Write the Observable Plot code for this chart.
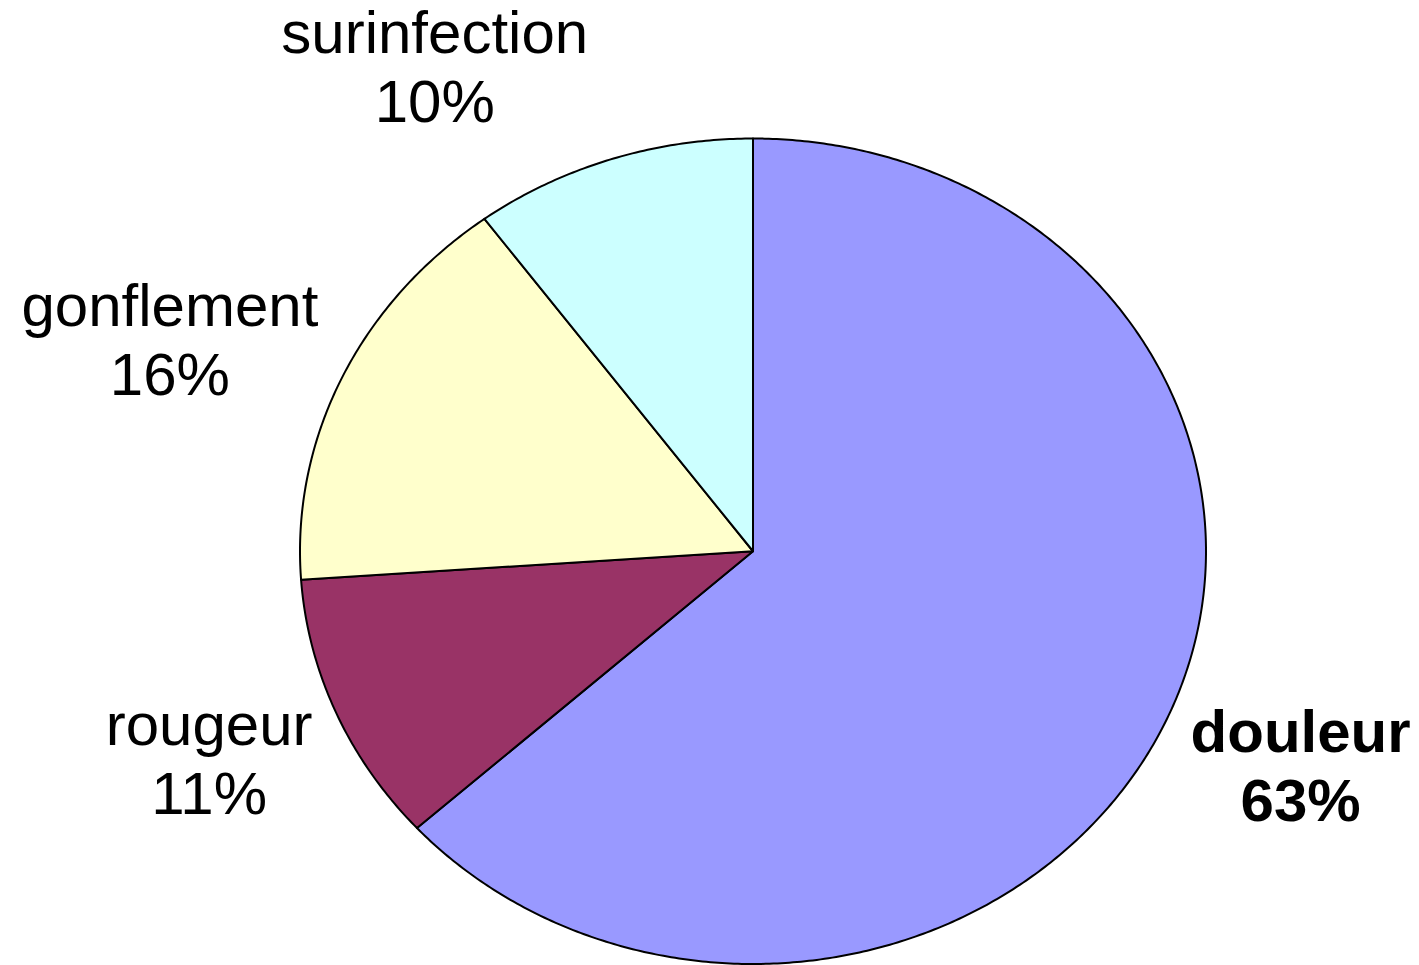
<!DOCTYPE html>
<html>
<head>
<meta charset="utf-8">
<script src="https://cdn.jsdelivr.net/npm/d3@7"></script>
<script src="https://cdn.jsdelivr.net/npm/@observablehq/plot@0.6"></script>
<style>
  html, body { margin: 0; padding: 0; background: #fff; }
  #chart { width: 1419px; height: 965px; }
</style>
</head>
<body>
<div id="chart"></div>
<script>
const categories = ["douleur", "rougeur", "gonflement", "surinfection"];
const values = [63.3, 10.6, 16.0, 10.1];
const colors = ["#9999FF", "#993366", "#FFFFCC", "#CCFFFF"];
const boldLabel = ["douleur"];

const FONT = "Liberation Sans, Arial, Helvetica, sans-serif";
const FONT_SIZE = 60;
const RX_PX = 453; // pixels per x unit (for label measurement)

const total = d3.sum(values);
const pie = d3.pie().sort(null).value(d => d.value)(
  categories.map((name, i) => ({name, value: values[i], color: colors[i]}))
);

// sample slice outline in unit-circle data coordinates
function slicePolygon(s) {
  const pts = [{x: 0, y: 0}];
  const n = Math.max(2, Math.ceil((s.endAngle - s.startAngle) / (Math.PI / 360)));
  for (let k = 0; k <= n; k++) {
    const a = s.startAngle + (s.endAngle - s.startAngle) * k / n;
    pts.push({x: Math.sin(a), y: Math.cos(a)});
  }
  pts.push({x: 0, y: 0});
  return pts;
}

const ctx = document.createElement("canvas").getContext("2d");
function textW(str, bold) {
  ctx.font = `${bold ? "bold " : ""}${FONT_SIZE}px ${FONT}`;
  return ctx.measureText(str).width;
}

const labels = pie.map(s => {
  const mid = (s.startAngle + s.endAngle) / 2;
  const bold = boldLabel.includes(s.data.name);
  const pct = Math.round(s.data.value / total * 100) + "%";
  const w = Math.max(textW(s.data.name, bold), textW(pct, bold));
  const sx = Math.sin(mid), cy = Math.cos(mid);
  const sg = Math.sign(sx);
  return {
    text: s.data.name + "\n" + pct,
    bold,
    x: sx + sg * 0.052 + sg * (w / 2) / RX_PX,
    y: 1.25 * cy - 0.01
  };
});

const marks = [];
pie.forEach(s => {
  marks.push(Plot.line(slicePolygon(s), {
    x: "x", y: "y", fill: s.data.color, stroke: "#000",
    strokeWidth: 2, strokeLinejoin: "round", curve: "linear"
  }));
});
marks.push(Plot.text(labels.filter(d => !d.bold), {
  x: "x", y: "y", text: "text", fontSize: FONT_SIZE, fontFamily: FONT,
  lineHeight: 1.15, textAnchor: "middle", lineAnchor: "middle", fill: "#000"
}));
marks.push(Plot.text(labels.filter(d => d.bold), {
  x: "x", y: "y", text: "text", fontSize: FONT_SIZE, fontFamily: FONT, fontWeight: "bold",
  lineHeight: 1.15, textAnchor: "middle", lineAnchor: "middle", fill: "#000"
}));

const chart = Plot.plot({
  width: 1419,
  height: 965,
  margin: 0,
  style: {background: "#fff", overflow: "visible"},
  x: {type: "linear", domain: [-1, 1], range: [299.5, 1205.5], axis: null},
  y: {type: "linear", domain: [-1, 1], range: [963.5, 138], axis: null},
  marks
});
document.getElementById("chart").appendChild(chart);
</script>
</body>
</html>
